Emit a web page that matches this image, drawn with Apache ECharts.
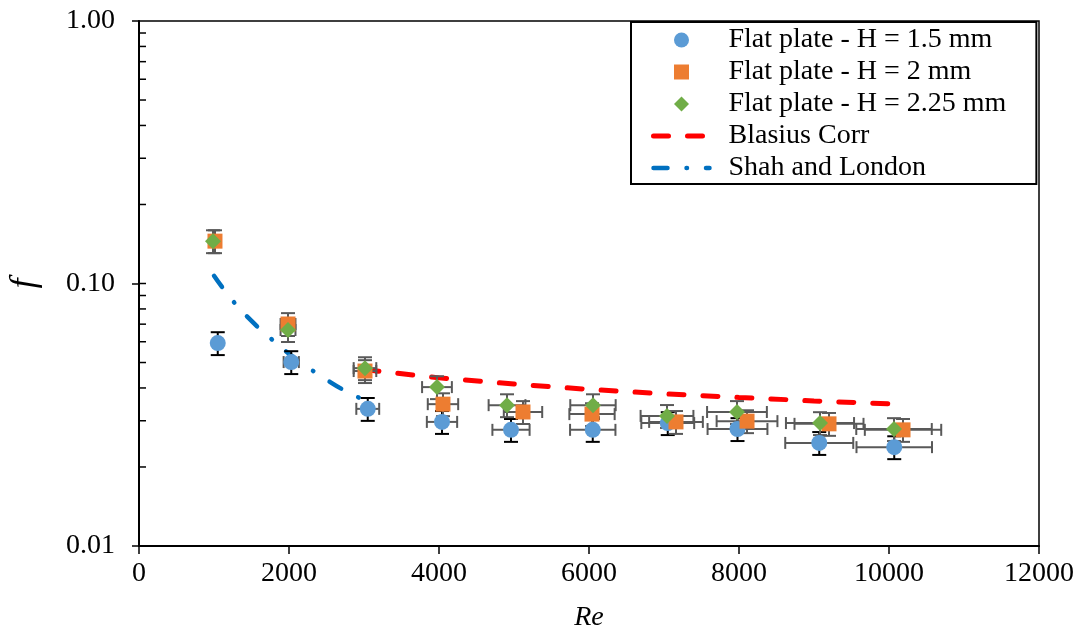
<!DOCTYPE html>
<html>
<head>
<meta charset="utf-8">
<script src="https://cdn.jsdelivr.net/npm/echarts@6/dist/echarts.min.js"></script>
<style>
html,body{margin:0;padding:0;background:#fff;}
#chart{width:1081px;height:637px;}
</style>
</head>
<body>
<div id="chart"></div>
<script>
// ---- data ----
const seriesNames = ['Flat plate - H = 1.5 mm', 'Flat plate - H = 2 mm', 'Flat plate - H = 2.25 mm', 'Blasius Corr', 'Shah and London'];

const reH15 = [1050, 2030, 3050, 4040, 4960, 6050, 7050, 7980, 9070, 10070];
const fH15  = [0.0593, 0.0502, 0.0333, 0.0297, 0.0277, 0.0277, 0.0294, 0.0279, 0.0247, 0.0238];

const reH2 = [1013, 1987, 3013, 4053, 5120, 6040, 7160, 8107, 9200, 10187];
const fH2  = [0.145, 0.0701, 0.0464, 0.0347, 0.0324, 0.0318, 0.0297, 0.0299, 0.0292, 0.0277];

const reH225 = [987, 1987, 3013, 3973, 4907, 6053, 7040, 7973, 9080, 10067];
const fH225  = [0.145, 0.0665, 0.0476, 0.0403, 0.0344, 0.0344, 0.0313, 0.0324, 0.0294, 0.0279];

const reBlasius = [3000, 4000, 5000, 6000, 7000, 8000, 9000, 10000, 10200];
const fBlasius  = [0.0470, 0.0437, 0.0414, 0.0395, 0.0380, 0.0368, 0.0357, 0.0348, 0.0346];

const reShah = [1000, 1250, 1500, 1750, 2000, 2250, 2500, 2750, 3000];
const fShah  = [0.107, 0.086, 0.072, 0.062, 0.054, 0.048, 0.043, 0.039, 0.036];

// relative error bar sizes
const xErrFrac = 0.05;
const yErrFrac = 0.10;

// y axis minor tick values (log axis, drawn inside)
const yInnerTicks = [0.02,0.03,0.04,0.05,0.06,0.07,0.08,0.09,0.1,0.2,0.3,0.4,0.5,0.6,0.7,0.8,0.9];

const FONT = "'Liberation Serif','Times New Roman',serif";

const blasiusLine = {color: '#FF0000', width: 5, type: [15, 19], cap: 'round'};
const shahLine = {color: '#0070C0', width: 4.5, type: [14, 19, 0.5, 19], cap: 'round'};

function pairs(xs, ys){ return xs.map((x,i)=>[x, ys[i]]); }

function errSeries(xs, ys, vColor){
  return {
    type: 'custom',
    silent: true,
    z: 3,
    encode: {x: 0, y: 1},
    data: pairs(xs, ys),
    renderItem: function(params, api){
      const x = api.value(0), y = api.value(1);
      const yl = api.coord([x, y*(1-yErrFrac)]);
      const yh = api.coord([x, y*(1+yErrFrac)]);
      const xl = api.coord([x*(1-xErrFrac), y]);
      const xh = api.coord([x*(1+xErrFrac), y]);
      const cw = 7, ch = 6;
      const vs = {stroke: vColor, lineWidth: 2};
      const hs = {stroke: '#595959', lineWidth: 2};
      return {type: 'group', children: [
        {type:'line', shape:{x1:xl[0], y1:xl[1], x2:xh[0], y2:xh[1]}, style: hs},
        {type:'line', shape:{x1:xl[0], y1:xl[1]-ch, x2:xl[0], y2:xl[1]+ch}, style: hs},
        {type:'line', shape:{x1:xh[0], y1:xh[1]-ch, x2:xh[0], y2:xh[1]+ch}, style: hs},
        {type:'line', shape:{x1:yl[0], y1:yl[1], x2:yh[0], y2:yh[1]}, style: vs},
        {type:'line', shape:{x1:yl[0]-cw, y1:yl[1], x2:yl[0]+cw, y2:yl[1]}, style: vs},
        {type:'line', shape:{x1:yh[0]-cw, y1:yh[1], x2:yh[0]+cw, y2:yh[1]}, style: vs}
      ]};
    }
  };
}

const chart = echarts.init(document.getElementById('chart'), null, {renderer: 'canvas'});

const option = {
  animation: false,
  backgroundColor: '#fff',
  textStyle: {fontFamily: FONT},
  grid: {left: 139, right: 42, top: 21, bottom: 91, show: true, borderColor: '#000', borderWidth: 1.5,
    backgroundColor: 'transparent', containLabel: false, outerBoundsMode: 'none'},
  legend: {
    data: [
      {name: seriesNames[0], icon: 'circle'},
      {name: seriesNames[1], icon: 'path://M0,0L10,0L10,10L0,10Z'},
      {name: seriesNames[2], icon: 'path://M5,0L10,5L5,10L0,5Z'},
      {name: seriesNames[3], itemStyle: {opacity: 0}, lineStyle: blasiusLine},
      {name: seriesNames[4], itemStyle: {opacity: 0}, lineStyle: shahLine}
    ],
    orient: 'vertical',
    left: 631, top: 22,
    padding: [4, 30, 2, 20],
    itemWidth: 56, itemHeight: 15, itemGap: 4,
    symbolKeepAspect: true,
    backgroundColor: '#fff',
    borderColor: '#000', borderWidth: 2,
    textStyle: {fontFamily: FONT, fontSize: 28, color: '#000', lineHeight: 28, padding: [0,0,0,14]}
  },
  xAxis: {
    type: 'value', min: 0, max: 12000, interval: 2000,
    name: 'Re', nameLocation: 'middle', nameGap: 58,
    nameTextStyle: {fontFamily: FONT, fontSize: 28, fontStyle: 'italic', color: '#000'},
    axisLine: {onZero: false, lineStyle: {color: '#000', width: 2}},
    axisTick: {length: 8, lineStyle: {color: '#000', width: 1.5}},
    axisLabel: {fontFamily: FONT, fontSize: 28, color: '#000', margin: 14,
      formatter: v => String(v)},
    splitLine: {show: false}
  },
  yAxis: {
    type: 'log', logBase: 10, min: 0.01, max: 1,
    name: 'f', nameLocation: 'middle', nameGap: 96, nameRotate: 90,
    nameTextStyle: {fontFamily: FONT, fontSize: 36, fontStyle: 'italic', color: '#000'},
    axisLine: {lineStyle: {color: '#000', width: 2}},
    axisTick: {length: 7, lineStyle: {color: '#000', width: 1.5}},
    axisLabel: {fontFamily: FONT, fontSize: 28, color: '#000', margin: 24,
      formatter: v => Number(v).toFixed(2)},
    splitLine: {show: false}
  },
  series: [
    {
      type: 'custom', silent: true, z: 1, encode: {x: 0, y: 1},
      data: yInnerTicks.map(v => [0, v]),
      renderItem: function(params, api){
        const p = api.coord([0, api.value(1)]);
        return {type:'line', shape:{x1:p[0], y1:p[1], x2:p[0]+7, y2:p[1]}, style:{stroke:'#000', lineWidth:1.5}};
      }
    },
    {
      name: 'Blasius Corr', type: 'line', data: pairs(reBlasius, fBlasius),
      symbol: 'none', smooth: false, z: 2,
      lineStyle: blasiusLine,
      itemStyle: {color: '#FF0000'}
    },
    {
      name: 'Shah and London', type: 'line', data: pairs(reShah, fShah),
      symbol: 'none', smooth: true, z: 2,
      lineStyle: shahLine,
      itemStyle: {color: '#0070C0'}
    },
    errSeries(reH15, fH15, '#000'),
    {
      name: seriesNames[0], type: 'scatter', data: pairs(reH15, fH15), z: 3,
      symbol: 'circle', symbolSize: 16, itemStyle: {color: '#5B9BD5', opacity: 1}
    },
    errSeries(reH2, fH2, '#595959'),
    {
      name: seriesNames[1], type: 'scatter', data: pairs(reH2, fH2), z: 3,
      symbol: 'rect', symbolSize: 15, itemStyle: {color: '#ED7D31', opacity: 1}
    },
    errSeries(reH225, fH225, '#595959'),
    {
      name: seriesNames[2], type: 'scatter', data: pairs(reH225, fH225), z: 3,
      symbol: 'diamond', symbolSize: 16, itemStyle: {color: '#70AD47', opacity: 1}
    }
  ]
};
chart.setOption(option);
</script>
</body>
</html>
